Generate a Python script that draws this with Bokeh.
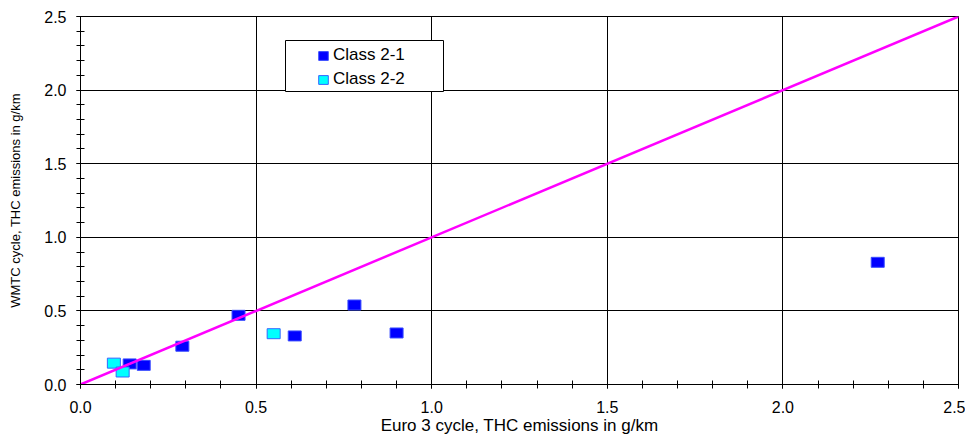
from bokeh.plotting import figure
from bokeh.models import (Range1d, SingleIntervalTicker, NumeralTickFormatter,
                          Legend, LegendItem, BoxAnnotation)
from bokeh.embed import file_html
from bokeh.resources import INLINE

# ---- data ----
class21_x = [0.14, 0.18, 0.29, 0.45, 0.61, 0.78, 0.90, 2.27]
class21_y = [0.14, 0.13, 0.26, 0.47, 0.33, 0.54, 0.35, 0.83]
class22_x = [0.095, 0.12, 0.55]
class22_y = [0.145, 0.085, 0.345]
line_x = [0.0, 2.5]
line_y = [0.0, 2.5]
series_labels = ["Class 2-1", "Class 2-2"]
x_label = "Euro 3 cycle, THC emissions in g/km"
y_label = "WMTC cycle, THC emissions in g/km"

FONT = "Liberation Sans"

p = figure(frame_width=878, frame_height=368,
           min_border_left=80, min_border_right=7, min_border_top=16, min_border_bottom=41,
           x_range=Range1d(0, 2.5), y_range=Range1d(0, 2.5),
           output_backend="svg", toolbar_location=None,
           background_fill_color="white", border_fill_color="white")

p.outline_line_color = "black"
p.outline_line_width = 1

for ax, lab in ((p.xaxis[0], x_label), (p.yaxis[0], y_label)):
    ax.ticker = SingleIntervalTicker(interval=0.5, num_minor_ticks=5)
    ax.formatter = NumeralTickFormatter(format="0.0")
    ax.axis_label = lab
    ax.axis_label_text_font = FONT
    ax.axis_label_text_font_style = "normal"
    ax.axis_label_text_color = "black"
    ax.major_label_text_font = FONT
    ax.major_label_text_font_size = "16px"
    ax.major_label_text_color = "black"
    ax.axis_line_color = "black"
    ax.major_tick_line_color = "black"
    ax.minor_tick_line_color = "black"
    ax.major_tick_in = 4
    ax.major_tick_out = 4
    ax.minor_tick_in = 4
    ax.minor_tick_out = 4

p.xaxis[0].axis_label_text_font_size = "17px"
p.xaxis[0].major_label_standoff = 12
p.xaxis[0].axis_label_standoff = 0
p.yaxis[0].axis_label_text_font_size = "13px"
p.yaxis[0].major_label_standoff = 10
p.yaxis[0].axis_label_standoff = 18

for g in (p.xgrid[0], p.ygrid[0]):
    g.grid_line_color = "black"
    g.grid_line_width = 1
    g.ticker = SingleIntervalTicker(interval=0.5)

r1 = p.rect(class21_x, class21_y, width=13, height=10,
            width_units="screen", height_units="screen",
            fill_color="#0000ff", line_color="#3a4dff", line_width=1)
r2 = p.rect(class22_x, class22_y, width=13, height=10,
            width_units="screen", height_units="screen",
            fill_color="#00ffff", line_color="#3366ff", line_width=1)
p.line(line_x, line_y, line_color="#ff00ff", line_width=2.5)

# legend frame (opaque white box)
box = BoxAnnotation(left=205, right=363, bottom=293, top=344,
                    left_units="screen", right_units="screen",
                    bottom_units="screen", top_units="screen",
                    fill_color="white", fill_alpha=1.0,
                    line_color="black", line_width=1, line_alpha=1.0)
p.add_layout(box)

legend = Legend(items=[LegendItem(label=series_labels[0], renderers=[r1]),
                       LegendItem(label=series_labels[1], renderers=[r2])],
                location=(237, 295), padding=4, spacing=4,
                glyph_width=12, glyph_height=11, label_height=20,
                label_standoff=4,
                label_text_font=FONT, label_text_font_size="17px",
                label_text_color="black",
                border_line_color=None, background_fill_alpha=0.0)
p.add_layout(legend)

open("out.html", "w").write(file_html(p, INLINE))
